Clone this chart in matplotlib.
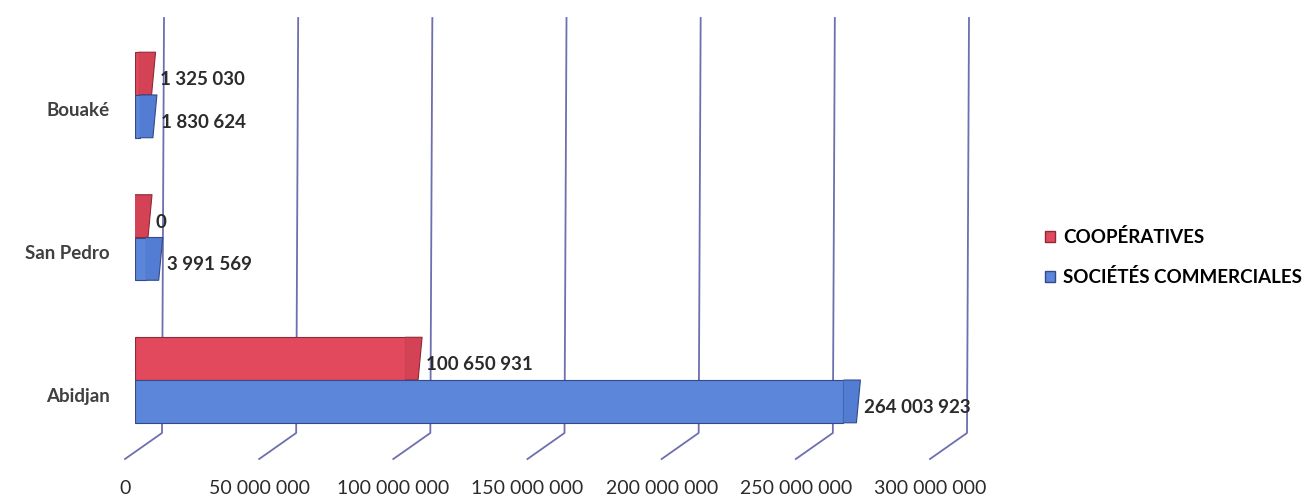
import matplotlib.pyplot as plt
from matplotlib.patches import Patch, Polygon

plt.rcParams['font.family'] = ['Lato', 'DejaVu Sans']

# Données (de bas en haut)
villes = ["Abidjan", "San Pedro", "Bouaké"]
cooperatives = [100650931, 0, 1325030]
societes = [264003923, 3991569, 1830624]
graduations = [0, 50000000, 100000000, 150000000, 200000000, 250000000, 300000000]
series = ["COOPÉRATIVES", "SOCIÉTÉS COMMERCIALES"]

rouge = "#E2495D"
rouge_cote = "#D44256"
rouge_bord = "#8E2A38"
bleu = "#5C86DA"
bleu_cote = "#537DD2"
bleu_bord = "#34488A"
grille = "#6D6FAE"
texte = "#2B2B2B"


def fmt(v):
    return f"{v:,}".replace(",", " ")


fig = plt.figure(figsize=(13.08, 4.98), dpi=100)
W, H = 1308, 498
ax_l, ax_b, ax_w, ax_h = 135, 39, 805, 441   # in pixels
ax = fig.add_axes([ax_l / W, ax_b / H, ax_w / W, ax_h / H])
ax.set_xlim(0, 300000000)
ax.set_ylim(-0.554, 2.54)
ax.axis('off')

k = 300000000 / ax_w   # data units per pixel
pt = 0.72              # points per pixel at 100 dpi

# Grille "3D" : mur du fond + sol
xt = ax.get_xaxis_transform()
for g in graduations:
    ax.plot([g + 29 * k, g + 27 * k, g - 10 * k], [1.0, 0.059, 0.0],
            transform=xt, color=grille, lw=1.3, zorder=1, clip_on=False)
    ax.annotate(fmt(g), xy=(g, 0), xycoords=xt,
                xytext=(-10 * pt, -29 * pt), textcoords='offset points',
                ha='center', va='center', fontsize=14, color=texte)

# Barres
y = list(range(len(villes)))
h = 0.3
y_coop = [v + h / 2 for v in y]
y_soc = [v - h / 2 for v in y]


def bout(v, yc, couleur, bord, z):
    # face d'extrémité légèrement en biais (effet 3D)
    pts = [(v, yc + h / 2), (v + 17 * k, yc + h / 2),
           (v + 13 * k, yc - h / 2), (v, yc - h / 2)]
    ax.add_patch(Polygon(pts, closed=False, facecolor=couleur, edgecolor=bord,
                         lw=0.8, joinstyle='round', zorder=z))


ax.barh(y_coop, cooperatives, height=h, color=rouge, edgecolor=rouge_bord,
        lw=0.8, zorder=3)
ax.barh(y_soc, societes, height=h, color=bleu, edgecolor=bleu_bord,
        lw=0.8, zorder=4)
for yy, v in zip(y_coop, cooperatives):
    bout(v, yy, rouge_cote, rouge_bord, 3.5)
for yy, v in zip(y_soc, societes):
    bout(v, yy, bleu_cote, bleu_bord, 4.5)

# Étiquettes de valeurs
for yy, v in zip(y_coop, cooperatives):
    ax.annotate(fmt(v), xy=(v + 16 * k, yy), xytext=(5 * pt, -6 * pt),
                textcoords='offset points', ha='left', va='center',
                fontsize=13.5, fontweight='bold', color=texte, zorder=5)
for yy, v in zip(y_soc, societes):
    ax.annotate(fmt(v), xy=(v + 16 * k, yy), xytext=(5 * pt, -6 * pt),
                textcoords='offset points', ha='left', va='center',
                fontsize=13.5, fontweight='bold', color=texte, zorder=5)

# Noms des villes
for yy, nom in zip(y, villes):
    ax.annotate(nom, xy=(0, yy), xytext=(-25 * pt, -16 * pt),
                textcoords='offset points', ha='right', va='center',
                fontsize=13.5, fontweight='bold', color="#404040")

# Légende
poignees = [Patch(facecolor=rouge, edgecolor=rouge_bord),
            Patch(facecolor=bleu, edgecolor=bleu_bord)]
fig.legend(poignees, series, loc='center left',
           bbox_to_anchor=(1045 / W, 1 - 257 / H), frameon=False,
           prop={'size': 13.5, 'weight': 'bold'}, handlelength=0.55,
           handleheight=0.55, handletextpad=0.4, labelspacing=1.15,
           borderpad=0, borderaxespad=0)

fig.savefig("out.png", dpi=100)
